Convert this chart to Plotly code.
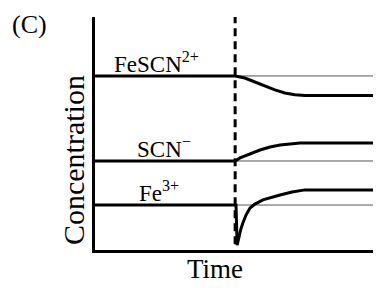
import plotly.graph_objects as go

# Time axis 0..10, concentration axis 0..10 (arbitrary units)
t_change = 4.9
y_max = 10

# FeSCN2+
fescn_t = [0, 4.9, 5.24, 5.59, 5.94, 6.29, 6.64, 6.99, 7.34, 10]
fescn_c = [7.47, 7.47, 7.38, 7.21, 7.04, 6.87, 6.74, 6.66, 6.63, 6.63]
# SCN-
scn_t = [0, 4.9, 5.07, 5.42, 5.77, 6.12, 6.47, 6.82, 7.17, 10]
scn_c = [3.82, 3.82, 3.95, 4.12, 4.29, 4.42, 4.51, 4.55, 4.59, 4.59]
# Fe3+
fe_t = [0, 4.93, 4.97, 5.03, 5.10, 5.17, 5.28, 5.42, 5.59, 5.87, 6.19, 6.47, 6.89, 7.34, 10]
fe_c = [1.93, 1.93, 0.21, 0.56, 0.90, 1.16, 1.50, 1.80, 1.97, 2.15, 2.27, 2.36, 2.49, 2.58, 2.58]

labels = ["FeSCN<sup>2+</sup>", "SCN<sup>−</sup>", "Fe<sup>3+</sup>"]
label_t = [0.59, 1.40, 1.47]
initial = [7.47, 3.82, 1.93]

fig = go.Figure()
font = "Liberation Serif, Times New Roman, serif"

# thin reference lines of the initial levels
for c in initial:
    fig.add_trace(go.Scatter(x=[t_change, 10], y=[c, c], mode="lines",
                             line=dict(color="#555555", width=1), hoverinfo="skip"))

for tt, cc in [(fescn_t, fescn_c), (scn_t, scn_c), (fe_t, fe_c)]:
    fig.add_trace(go.Scatter(x=tt, y=cc, mode="lines",
                             line=dict(color="black", width=3), hoverinfo="skip"))

# dashed perturbation line
fig.add_trace(go.Scatter(x=[t_change, t_change], y=[0.25, y_max], mode="lines",
                         line=dict(color="black", width=3, dash="8px,5px"), hoverinfo="skip"))

for lab, lt, c in zip(labels, label_t, initial):
    fig.add_annotation(x=lt, y=c, text=lab, showarrow=False, xanchor="left", yanchor="bottom",
                       yshift=-3, font=dict(family=font, size=23, color="black"))

fig.add_annotation(x=-0.297, y=0.966, xref="paper", yref="paper", text="(C)", showarrow=False,
                   xanchor="left", yanchor="middle", font=dict(family=font, size=26, color="black"))
fig.add_annotation(x=-0.077, y=0.386, xref="paper", yref="paper", text="Concentration",
                   showarrow=False, textangle=-90, xanchor="center", yanchor="middle",
                   font=dict(family=font, size=30, color="black"))
fig.add_annotation(x=0.42, y=-0.155, xref="paper", yref="paper", text="Time", showarrow=False,
                   xanchor="center", yanchor="bottom", font=dict(family=font, size=27, color="black"))

# the page body adds an 8px margin, so the figure is sized 8px smaller
fig.update_layout(
    width=373, height=280,
    margin=dict(l=87, r=0, t=9, b=38, autoexpand=False),
    paper_bgcolor="white", plot_bgcolor="white",
    showlegend=False,
    font=dict(family=font, color="black"),
    xaxis=dict(range=[0, 10], showline=True, linecolor="black", linewidth=3, automargin=False,
               showticklabels=False, ticks="", showgrid=False, zeroline=False),
    yaxis=dict(range=[0, y_max], showline=True, linecolor="black", linewidth=3, automargin=False,
               showticklabels=False, ticks="", showgrid=False, zeroline=False),
)

fig.write_html("out.html")
